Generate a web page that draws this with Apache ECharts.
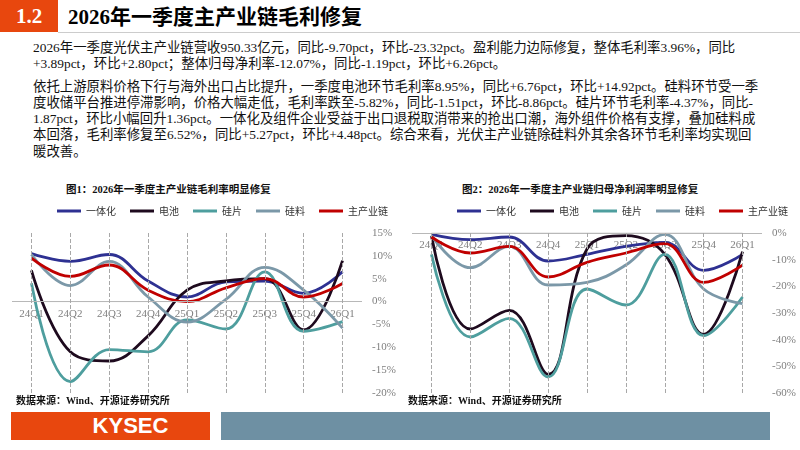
<!DOCTYPE html>
<html><head><meta charset="utf-8">
<script src="https://cdn.jsdelivr.net/npm/echarts@6/dist/echarts.min.js"></script>
<style>
body{margin:0;width:800px;height:450px;position:relative;background:#fff;font-family:"Liberation Serif","Noto Sans CJK SC",serif;overflow:hidden}
.abs{position:absolute}
#p{left:33px;top:40px;width:760px;font-size:13.4px;line-height:16.3px;color:#111}
#p div{white-space:nowrap}
.cap{font-size:10.5px;font-weight:bold;color:#111}
.src{font-size:10px;font-weight:bold;color:#111}
</style></head><body>
<div class="abs" style="left:0;top:0;width:58px;height:32px;background:#E8470E;color:#fff;font-weight:bold;font-size:21px;line-height:32px;text-align:center">1.2</div>
<div class="abs" style="left:68px;top:0;height:32px;line-height:34px;font-weight:bold;font-size:21px;color:#000">2026年一季度主产业链毛利修复</div>
<div class="abs" style="left:58px;top:32px;width:742px;height:1px;background:#ccc"></div>
<div id="p" class="abs">
<div>2026年一季度光伏主产业链营收950.33亿元，同比-9.70pct，环比-23.32pct。盈利能力边际修复，整体毛利率3.96%，同比</div>
<div>+3.89pct，环比+2.80pct；整体归母净利率-12.07%，同比-1.19pct，环比+6.26pct。</div>
<div style="margin-top:6px">依托上游原料价格下行与海外出口占比提升，一季度电池环节毛利率8.95%，同比+6.76pct，环比+14.92pct。硅料环节受一季</div>
<div>度收储平台推进停滞影响，价格大幅走低，毛利率跌至-5.82%，同比-1.51pct，环比-8.86pct。硅片环节毛利率-4.37%，同比-</div>
<div>1.87pct，环比小幅回升1.36pct。一体化及组件企业受益于出口退税取消带来的抢出口潮，海外组件价格有支撑，叠加硅料成</div>
<div>本回落，毛利率修复至6.52%，同比+5.27pct，环比+4.48pct。综合来看，光伏主产业链除硅料外其余各环节毛利率均实现回</div>
<div>暖改善。</div>
</div>
<div class="abs cap" style="left:66px;top:181px">图1：2026年一季度主产业链毛利率明显修复</div>
<div class="abs cap" style="left:462px;top:181px">图2：2026年一季度主产业链归母净利润率明显修复</div>
<div id="c" class="abs" style="left:0;top:195px;width:800px;height:215px"></div>
<div class="abs src" style="left:16px;top:392px">数据来源：Wind、开源证券研究所</div>
<div class="abs src" style="left:408px;top:392px">数据来源：Wind、开源证券研究所</div>
<div class="abs" style="left:11px;top:412px;width:199px;height:28px;background:#E8470E;color:#fff;font-family:'Liberation Sans',Arial;font-weight:bold;font-size:22px;line-height:28px;text-align:center;padding-left:40px;box-sizing:border-box">KYSEC</div>
<div class="abs" style="left:221px;top:412px;width:549px;height:28px;background:#6E90A3"></div>
<script>
const categories=['24Q1','24Q2','24Q3','24Q4','25Q1','25Q2','25Q3','25Q4','26Q1'];
const names=['一体化','电池','硅片','硅料','主产业链'];
const colors=['#2E3192','#1E0A1E','#4E9E9E','#7B98A8','#C00000'];
const gm1=[10.5,8.8,10.3,4.5,1.0,4.3,4.5,1.8,6.5];
const gm2=[6.8,-11,-13,-7.5,2.5,4.5,5.0,-6.2,8.95];
const gm3=[4.0,-17.5,-10.5,-11,-4.0,-6.0,6.5,-6.5,-4.4];
const gm4=[10.3,3.5,8.8,1.0,-4.5,0.5,7.5,2.5,-5.8];
const gm5=[9.5,5.5,8.0,2.5,0.0,3.0,5.0,1.0,3.96];
const nm1=[-0.5,-2.5,-1.5,-10.5,-8,-5,-3.5,-14,-8];
const nm2=[-1,-36,-29,-53,-6,-1,-8,-38,-7];
const nm3=[-8,-39,-32,-54,-21,-27,-8,-38.5,-24];
const nm4=[-1,-13,-5,-19.5,-18.5,-12,-0.5,-21,-26.5];
const nm5=[-1.5,-7.5,-5,-16.5,-11,-7.5,-4,-18.5,-12.07];
const gm=[gm1,gm2,gm3,gm4,gm5], nm=[nm1,nm2,nm3,nm4,nm5];
const font='Liberation Serif';
function xa(i){return {type:'category',gridIndex:i,data:categories,boundaryGap:true,
 axisLine:{show:false},axisTick:{show:false},axisLabel:{show:false}};}
function ya(i,min,max,int){return {type:'value',gridIndex:i,min,max,interval:int,position:'right',
 axisLabel:{color:'#7f7f7f',fontFamily:font,fontSize:11,formatter:v=>v+'%',margin:10},
 splitLine:{show:false},axisLine:{show:false}};}
const series=[];
[gm,nm].forEach((arr,g)=>{
 series.push({type:'line',xAxisIndex:g,yAxisIndex:g,symbol:'circle',symbolSize:0,showSymbol:true,silent:true,z:1,
  lineStyle:{color:'#b8b8b8',width:1},itemStyle:{color:'#b8b8b8'},
  data:categories.map(()=>0),
  label:{show:true,position:'bottom',distance:7,formatter:p=>p.name,color:'#7f7f7f',fontFamily:font,fontSize:11},
  markLine:{silent:true,symbol:['none','none'],animation:false,label:{show:false},
   lineStyle:{type:'dashed',color:'#a8a8a8',width:1},
   data:[{yAxis:0,lineStyle:{type:'solid',color:'#b8b8b8'}},...categories.map((c,i)=>({xAxis:i}))]}});
 arr.forEach((d,k)=>series.push({type:'line',name:names[k],xAxisIndex:g,yAxisIndex:g,z:3,
 data:d,smooth:0.4,symbol:'none',lineStyle:{width:2.8,color:colors[k]},itemStyle:{color:colors[k]}}));
});
const leg=(left)=>({left,top:6,itemWidth:24,itemHeight:3,itemGap:14,icon:'rect',data:names,
 textStyle:{fontFamily:'Noto Sans CJK SC',fontSize:10,color:'#333'}});
echarts.init(document.getElementById('c')).setOption({
 animation:false,
 legend:[leg(52),leg(452)],
 grid:[{left:12,width:350,top:38,height:160},{left:412,width:350,top:38,height:160}],
 xAxis:[xa(0),xa(1)],
 yAxis:[ya(0,-20,15,5),ya(1,-60,0,10)],
 series
});
</script></body></html>
